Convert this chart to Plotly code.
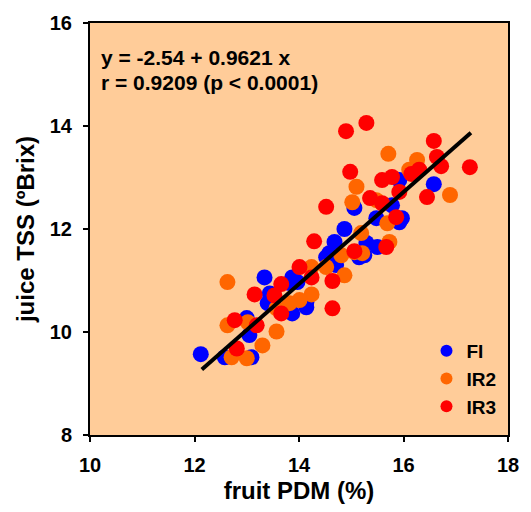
import plotly.graph_objects as go

# FI (blue)
fi_x = [16.58, 15.92, 15.92, 15.97, 15.78, 15.48, 15.50, 15.25, 15.29, 15.06, 14.87, 14.68, 14.58, 15.15, 14.71,
        14.52, 14.14, 14.14, 13.97, 13.87, 13.82, 13.87, 13.40, 13.44, 13.34, 13.00, 13.05, 13.09, 12.58, 12.12]
fi_y = [12.87, 12.95, 12.13, 12.21, 12.46, 12.21, 11.65, 11.49, 11.73, 12.41, 12.00, 11.75, 11.53, 11.45, 11.30,
        11.45, 10.58, 10.48, 10.97, 11.06, 10.95, 10.36, 10.56, 10.75, 11.06, 10.27, 9.94, 9.51, 9.51, 9.57]

# IR2 (orange)
ir2_x = [15.71, 16.26, 16.11, 16.89, 15.10, 15.02, 15.48, 15.69, 15.19, 15.73, 15.06, 15.21, 14.81, 14.87,
         14.52, 14.24, 14.24, 14.01, 13.82, 13.57, 13.57, 13.30, 13.02, 12.63, 12.63, 12.71, 13.00]
ir2_y = [13.46, 13.34, 13.15, 12.66, 12.82, 12.52, 12.56, 12.11, 11.92, 11.75, 11.55, 11.53, 11.49, 11.10,
         11.26, 11.26, 10.73, 10.62, 10.56, 10.46, 10.01, 9.74, 10.19, 10.13, 10.97, 9.51, 9.49]

# IR3 (red)
ir3_x = [14.90, 15.29, 16.58, 16.64, 16.72, 17.27, 14.98, 15.59, 15.78, 16.15, 16.30, 16.45, 15.92, 15.36,
         15.59, 15.86, 15.67, 15.06, 14.52, 14.29, 14.01, 14.24, 14.64, 14.64, 13.66, 13.53, 13.66, 13.15,
         12.77, 13.19, 12.81]
ir3_y = [13.90, 14.06, 13.71, 13.40, 13.22, 13.20, 13.11, 12.95, 13.01, 13.07, 13.15, 12.62, 12.72, 12.60,
         12.50, 12.23, 11.65, 11.57, 12.43, 11.76, 11.26, 11.06, 10.99, 10.46, 10.93, 10.71, 10.36, 10.73,
         10.23, 10.13, 9.68]

# regression line as drawn (ends)
fit_x = [12.14, 17.29]
fit_y = [9.27, 13.87]

series_names = ["FI", "IR2", "IR3"]
series_colors = ["#0000FF", "#FF6600", "#FF0000"]

x_ticks = [10, 12, 14, 16, 18]
y_ticks = [8, 10, 12, 14, 16]

FONT = "Liberation Sans, Arial, sans-serif"

fig = go.Figure()
for name, xs, ys, col in zip(series_names, [fi_x, ir2_x, ir3_x], [fi_y, ir2_y, ir3_y], series_colors):
    fig.add_trace(go.Scatter(
        x=xs, y=ys, mode="markers", name=f"<b>{name}</b>", legendgroup=name,
        marker=dict(size=16, color=col, line=dict(width=0)),
    ))

fig.add_trace(go.Scatter(
    x=fit_x, y=fit_y, mode="lines", showlegend=False,
    line=dict(color="black", width=4),
))

fig.add_annotation(x=0.022, y=0.917, xref="paper", yref="paper", xanchor="left", yanchor="middle",
                   text="<b>y = -2.54 + 0.9621 x</b>", showarrow=False,
                   font=dict(family=FONT, size=21, color="black"))
fig.add_annotation(x=0.022, y=0.856, xref="paper", yref="paper", xanchor="left", yanchor="middle",
                   text="<b>r = 0.9209 (p < 0.0001)</b>", showarrow=False,
                   font=dict(family=FONT, size=21, color="black"))

axis_common = dict(
    showgrid=False, zeroline=False, showline=True, linecolor="black", linewidth=2, mirror=True,
    ticks="outside", ticklen=5, tickwidth=1.5, tickcolor="black",
    tickfont=dict(family=FONT, size=20, color="black"),
)

fig.update_layout(
    width=531, height=512,
    margin=dict(l=90, r=21, t=23, b=77),
    paper_bgcolor="white", plot_bgcolor="#FFCC99",
    font=dict(family=FONT, color="black"),
    xaxis=dict(range=[10, 18], tickvals=x_ticks, ticktext=[f"<b>{v}</b>" for v in x_ticks],
               ticklabelstandoff=6,
               title=dict(text="<b>fruit PDM (%)</b>", font=dict(family=FONT, size=24), standoff=7),
               **axis_common),
    yaxis=dict(range=[8, 16], tickvals=y_ticks, ticktext=[f"<b>{v}</b>" for v in y_ticks],
               ticklabelstandoff=7,
               title=dict(text="<b>juice TSS (ºBrix)</b>", font=dict(family=FONT, size=24), standoff=8),
               **axis_common),
    legend=dict(x=0.805, y=0.25, xanchor="left", yanchor="top", bgcolor="rgba(0,0,0,0)",
                font=dict(family=FONT, size=19, color="black"), itemsizing="constant",
                tracegroupgap=0, itemwidth=30),
)

fig.write_html("out.html")
